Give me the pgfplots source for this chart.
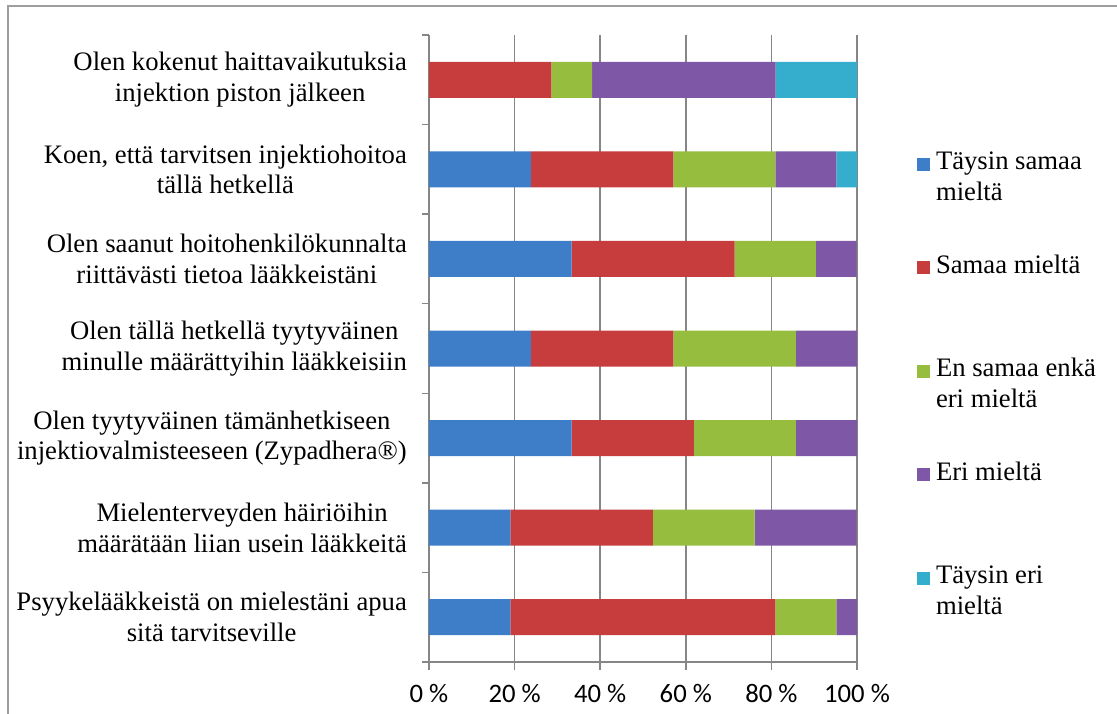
\documentclass[border=0pt]{standalone}
\usepackage{fontspec}
\setmainfont{Liberation Serif}
\newfontfamily\carlito{Carlito}
\usepackage{pgfplots}
\usepackage{pgfplotstable}
\pgfplotsset{compat=1.18}

\definecolor{cblue}{RGB}{62,126,201}
\definecolor{cred}{RGB}{199,60,60}
\definecolor{cgreen}{RGB}{150,189,62}
\definecolor{cpurple}{RGB}{126,88,166}
\definecolor{ccyan}{RGB}{52,174,204}
\definecolor{axisgray}{RGB}{134,134,134}

% shares per answer (%), n = 21
\pgfplotstableread{
y  a    b    c    d    e
0  19.0 61.9 14.3 4.8  0
1  19.0 33.3 23.8 23.8 0
2  33.3 28.6 23.8 14.3 0
3  23.8 33.3 28.6 14.3 0
4  33.3 38.1 19.0 9.5  0
5  23.8 33.3 23.8 14.3 4.8
6  0    28.6 9.5  42.9 19.0
}\answers

\newcommand\legtext[1]{\raisebox{0pt}[20pt][0pt]{\parbox[t]{170pt}{\raggedright #1}}}
\pgfplotsset{
    legsq/.style={legend image code/.code={\fill[#1] (0pt,-10pt) rectangle (13pt,3pt);}},
    seg/.style={draw=none, fill=#1, legsq=#1},
}

\begin{document}
\begin{tikzpicture}
\useasboundingbox (0,0) rectangle (1117pt,713pt);
\draw[axisgray!80, line width=1.5pt] (8pt,-5pt) -- (8pt,707pt) -- (1122pt,707pt);
\begin{axis}[
    at={(429pt,51pt)}, anchor=south west,
    width=428pt, height=627pt, scale only axis,
    xbar stacked, bar width=36pt,
    xmin=0, xmax=100, ymin=-0.5, ymax=6.5,
    axis x line=bottom, axis y line=left,
    axis line style={draw=axisgray, line width=1.5pt, -},
    xtick={0,20,...,100},
    xticklabels={0~\%,20~\%,40~\%,60~\%,80~\%,100~\%},
    xticklabel style={font=\carlito\fontsize{26.67}{30}\selectfont, inner sep=0pt, yshift=-14pt},
    ytick={0,...,6},
    minor ytick={-0.5,0.5,...,6.5},
    yticklabels={
        {Psyykelääkkeistä on mielestäni apua\\sitä tarvitseville},
        {Mielenterveyden häiriöihin\\määrätään liian usein lääkkeitä},
        {Olen tyytyväinen tämänhetkiseen\\injektiovalmisteeseen (Zypadhera®)},
        {Olen tällä hetkellä tyytyväinen\\minulle määrättyihin lääkkeisiin},
        {Olen saanut hoitohenkilökunnalta\\riittävästi tietoa lääkkeistäni},
        {Koen, että tarvitsen injektiohoitoa\\tällä hetkellä},
        {Olen kokenut haittavaikutuksia\\injektion piston jälkeen}},
    yticklabel style={font=\fontsize{26.67}{30.7}\selectfont, align=center, inner sep=0pt, xshift=-14pt},
    tick align=outside,
    major tick length=8pt, minor tick length=7pt,
    tick style={draw=axisgray, line width=1.5pt},
    major y tick style={draw=none},
    xmajorgrids, grid style={draw=axisgray, line width=1.5pt},
    legend cell align=left,
    legend style={draw=none, fill=none, inner sep=0pt, outer sep=0pt,
        at={(1.1402,0.8166)}, anchor=north west,
        row sep=82pt, column sep=6pt,
        nodes={inner sep=0pt, anchor=west},
        font=\fontsize{26.67}{30.7}\selectfont},
]
\addplot[seg=cblue] table[x=a, y=y] {\answers};
\addlegendentry{\legtext{Täysin samaa\\mieltä}}
\addplot[seg=cred] table[x=b, y=y] {\answers};
\addlegendentry{\legtext{Samaa mieltä}}
\addplot[seg=cgreen] table[x=c, y=y] {\answers};
\addlegendentry{\legtext{En samaa enkä\\eri mieltä}}
\addplot[seg=cpurple] table[x=d, y=y] {\answers};
\addlegendentry{\legtext{Eri mieltä}}
\addplot[seg=ccyan] table[x=e, y=y] {\answers};
\addlegendentry{\legtext{Täysin eri\\mieltä}}
\end{axis}
\end{tikzpicture}
\end{document}
